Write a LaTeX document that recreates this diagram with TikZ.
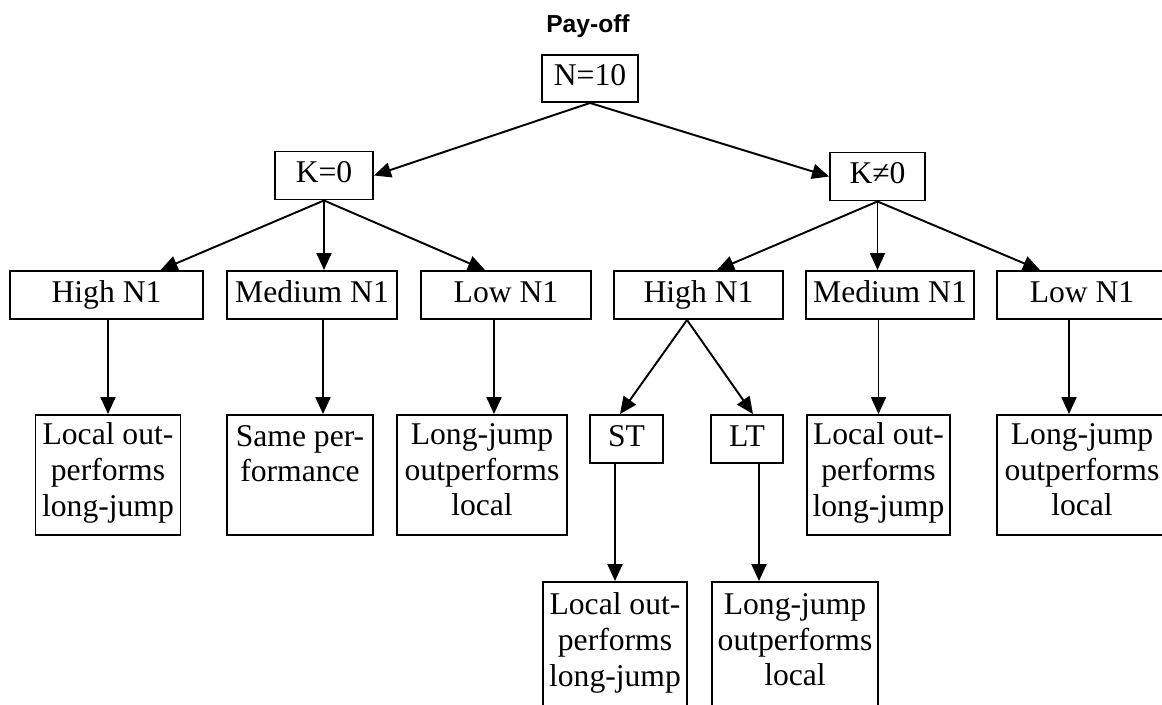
\documentclass[tikz,border=0pt]{standalone}
\usepackage{fontspec}
\setmainfont{Liberation Serif}
\setsansfont{Liberation Sans}
\usetikzlibrary{arrows.meta,calc}

\begin{document}
\begin{tikzpicture}[
    x=0.02cm, y=-0.02cm,
    font=\fontsize{18}{20.4}\selectfont,
    box/.style={draw, line width=1.1pt, inner sep=0pt, align=center, minimum height=0.96cm,
      execute at begin node=\strut, execute at end node=\strut},
    leaf/.style={box, minimum height=2.4cm},
    wire/.style={line width=1.1pt, -{Triangle[length=0.34cm,width=0.3cm]}}
  ]
    \useasboundingbox (0,0) rectangle (1162,704);
    \node[font=\sffamily\bfseries\fontsize{14}{16}\selectfont, anchor=base] (title) at (588,32) {Pay-off};
    \node[box, minimum width=1.92cm, minimum height=0.94cm] (n10) at (590,78.5) {N=10};
    \node[box, minimum width=1.96cm] (k0) at (324,175.5) {K=0};
    \node[box, minimum width=1.9cm] (kn) at (877.5,176.5) {K≠0};

    \node[box, minimum width=3.86cm] (hiA) at (106.5,295) {High N1};
    \node[box, minimum width=3.4cm] (meA) at (312,295) {Medium N1};
    \node[box, minimum width=3.4cm] (loA) at (506,295) {Low N1};
    \node[box, minimum width=3.38cm] (hiB) at (698.5,295) {High N1};
    \node[box, minimum width=3.36cm] (meB) at (890,295) {Medium N1};
    \node[box, minimum width=3.4cm] (loB) at (1082,295) {Low N1};

    \node[leaf, minimum width=2.9cm] (lfA) at (108,475) {Local out-\\performs\\long-jump};
    \node[leaf, minimum width=2.92cm] (lfB) at (300,475)
      {\parbox[c][2.16cm][t]{2.9cm}{\centering\strut Same per-\\formance}};
    \node[leaf, minimum width=3.4cm] (lfC) at (482,475) {Long-jump\\outperforms\\local};
    \node[box, minimum width=1.46cm] (st) at (626.5,439) {ST};
    \node[box, minimum width=1.44cm] (lt) at (747,439) {LT};
    \node[leaf, minimum width=2.86cm] (lfD) at (878.5,475) {Local out-\\performs\\long-jump};
    \node[leaf, minimum width=3.4cm] (lfE) at (1082,475) {Long-jump\\outperforms\\local};

    \node[leaf, minimum width=2.88cm, minimum height=2.52cm] (lfF) at (615,645) {Local out-\\performs\\long-jump};
    \node[leaf, minimum width=3.32cm, minimum height=2.52cm] (lfG) at (795,645) {Long-jump\\outperforms\\local};

    \draw[wire] (n10.south) -- (k0.east);
    \draw[wire] (n10.south) -- (kn.west);

    \draw[wire] (k0.south) -- ($(hiA.north)+(54,0)$);
    \draw[wire] (k0.south) -- (k0.south |- meA.north);
    \draw[wire] (k0.south) -- ($(loA.north)+(-21,0)$);
    \draw[wire] (kn.south) -- ($(hiB.north)+(18.5,0)$);
    \draw[wire] (kn.south) -- (kn.south |- meB.north);
    \draw[wire] (kn.south) -- ($(loB.north)+(-42,0)$);

    \draw[wire] (lfA.north |- hiA.south) -- (lfA.north);
    \draw[wire] ($(meA.south)+(11,0)$) -- ($(lfB.north)+(23,0)$);
    \draw[wire] ($(loA.south)+(-12,0)$) -- ($(lfC.north)+(12,0)$);
    \draw[wire] ($(hiB.south)+(-11.5,0)$) -- ($(st.north)+(-6.5,0)$);
    \draw[wire] ($(hiB.south)+(-11.5,0)$) -- ($(lt.north)+(6,0)$);
    \draw[wire] (lfD.north |- meB.south) -- (lfD.north);
    \draw[wire] ($(loB.south)+(-13,0)$) -- ($(lfE.north)+(-13,0)$);

    \draw[wire] (lfF.north |- st.south) -- (lfF.north);
    \draw[wire] ($(lt.south)+(12,0)$) -- ($(lfG.north)+(-36,0)$);
  \end{tikzpicture}
\end{document}
